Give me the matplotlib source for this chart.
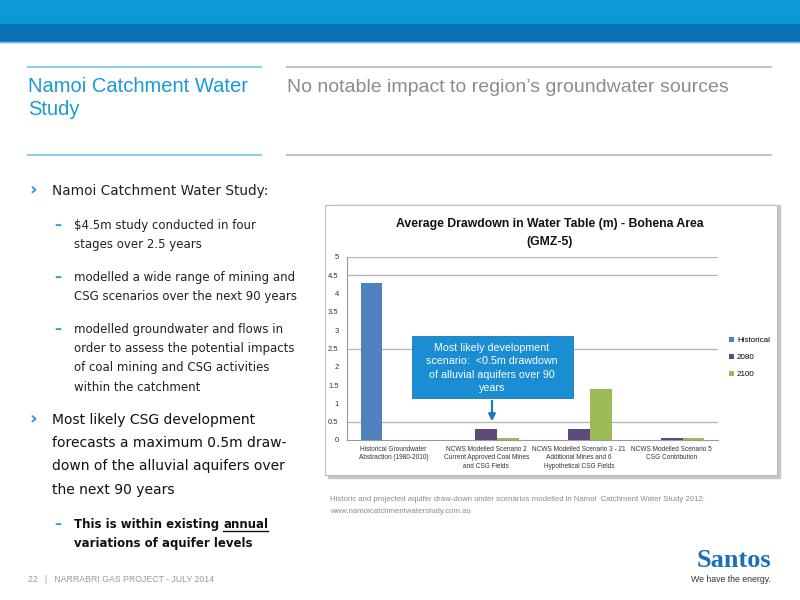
import numpy as np
import matplotlib
matplotlib.use("Agg")
import matplotlib.pyplot as plt
from matplotlib.patches import Rectangle, FancyArrowPatch

# chart data
categories = [
    "Historical Groundwater\nAbstraction (1980-2010)",
    "NCWS Modelled Scenario 2\nCurrent Approved Coal Mines\nand CSG Fields",
    "NCWS Modelled Scenario 3 - 21\nAdditional Mines and 6\nHypothetical CSG Fields",
    "NCWS Modelled Scenario 5\nCSG Contribution",
]
series_names = ["Historical", "2080", "2100"]
historical = [4.3, 0.0, 0.0, 0.0]
y2080 = [0.0, 0.29, 0.29, 0.05]
y2100 = [0.0, 0.05, 1.40, 0.05]
series_colors = ["#4f81bd", "#604a7b", "#9bbb59"]
yticks = [0, 0.5, 1, 1.5, 2, 2.5, 3, 3.5, 4, 4.5, 5]
ytick_labels = ["0", "0.5", "1", "1.5", "2", "2.5", "3", "3.5", "4", "4.5", "5"]

W, H = 800, 600
fig = plt.figure(figsize=(8, 6), dpi=100)
fig.patch.set_facecolor("white")


def fx(px):
    return px / W


def fy(py):
    return 1 - py / H


def ftext(px, py, s, **kw):
    kw.setdefault("va", "baseline")
    return fig.text(fx(px), fy(py), s, **kw)


def hline(x0, x1, y, color, lw=1.5):
    fig.add_artist(plt.Line2D([fx(x0), fx(x1)], [fy(y), fy(y)], color=color, lw=lw,
                              transform=fig.transFigure))


# header bands
fig.add_artist(Rectangle((0, fy(24)), 1, fy(0) - fy(24), color="#0a9bd6", transform=fig.transFigure, zorder=0))
fig.add_artist(Rectangle((0, fy(42)), 1, fy(24) - fy(42), color="#0a70b4", transform=fig.transFigure, zorder=0))
hline(0, 800, 42, "#7fc3e8", lw=1.0)

# title area
lib = ["Liberation Sans", "DejaVu Sans"]
hline(28, 261, 67, "#8fcdeb")
hline(28, 261, 155, "#8fcdeb")
hline(287, 771, 67, "#c4c4c4")
hline(287, 771, 155, "#c4c4c4")
ftext(28, 92, "Namoi Catchment Water", color="#1a9ad6", fontsize=14.5, family=lib)
ftext(28, 115, "Study", color="#1a9ad6", fontsize=14.5, family=lib)
ftext(287, 92, "No notable impact to region\u2019s groundwater sources", color="#8c8c8c",
      fontsize=14, family=lib)

# left text block
body = ["DejaVu Sans"]
blue = "#1a9ad6"
ftext(29, 195, "\u203a", color=blue, fontsize=13, fontweight="bold")
ftext(52, 195, "Namoi Catchment Water Study:", fontsize=9.8, family=body, color="#222222")
sub = [
    (229, ["$4.5m study conducted in four", "stages over 2.5 years"]),
    (281, ["modelled a wide range of mining and", "CSG scenarios over the next 90 years"]),
    (333, ["modelled groundwater and flows in", "order to assess the potential impacts",
           "of coal mining and CSG activities", "within the catchment"]),
]
for y0, lines in sub:
    ftext(54, y0, "\u2013", color=blue, fontsize=10, fontweight="bold")
    for i, ln in enumerate(lines):
        ftext(74, y0 + i * 19.2, ln.replace("$", r"\$"), fontsize=8.5, family=body, color="#222222")

ftext(29, 424, "\u203a", color=blue, fontsize=13, fontweight="bold")
main2 = ["Most likely CSG development", "forecasts a maximum 0.5m draw-",
         "down of the alluvial aquifers over", "the next 90 years"]
for i, ln in enumerate(main2):
    ftext(52, 424 + i * 23.2, ln, fontsize=10, family=body, color="#111111")

ftext(54, 528, "\u2013", color=blue, fontsize=10, fontweight="bold")
t1 = ftext(74, 528, "This is within existing ", fontsize=8.5, family=body, fontweight="bold", color="#111111")
ftext(74, 547, "variations of aquifer levels", fontsize=8.5, family=body, fontweight="bold", color="#111111")
fig.canvas.draw()
r = fig.canvas.get_renderer()
bb = t1.get_window_extent(r)
t2 = fig.text(bb.x1 / W, fy(528), "annual", fontsize=8.5, family=body, fontweight="bold",
              color="#111111", va="baseline")
bb2 = t2.get_window_extent(r)
fig.add_artist(plt.Line2D([bb2.x0 / W, bb2.x1 / W], [fy(531), fy(531)], color="#111111", lw=1.0,
                          transform=fig.transFigure))

# footer
ftext(28, 582, "22   |   NARRABRI GAS PROJECT - JULY 2014", fontsize=6.3, color="#9a9a9a", family=lib)
ftext(771, 567, "Santos", fontsize=19, color="#1a6fb8", family="Liberation Serif", fontweight="bold", ha="right")
ftext(771, 582, "We have the energy.", fontsize=6.3, color="#333333", family=lib, ha="right")

# caption
ftext(330, 501, "Historic and projected aquifer draw-down under scenarios modelled in Namoi  Catchment Water Study 2012:",
      fontsize=5.6, color="#8a8a8a", family=lib)
ftext(330, 513, "www.namoicatchmentwaterstudy.com.au", fontsize=5.6, color="#8a8a8a", family=lib)

# chart frame with shadow
fig.add_artist(Rectangle((fx(328), fy(478)), fx(777 - 325), (478 - 205) / H, color="#c8c8c8",
                         transform=fig.transFigure, zorder=1))
fig.add_artist(Rectangle((fx(325), fy(475)), fx(777 - 325), (475 - 205) / H, facecolor="white",
                         edgecolor="#bdbdbd", lw=0.8, transform=fig.transFigure, zorder=1))
ftext(550, 227, "Average Drawdown in Water Table (m) - Bohena Area", fontsize=8.8, fontweight="bold",
      ha="center", family=lib, color="#111111", zorder=3)
ftext(550, 245, "(GMZ-5)", fontsize=8.8, fontweight="bold", ha="center", family=lib, color="#111111", zorder=3)

ax = fig.add_axes([fx(347), fy(440), fx(718 - 347), (440 - 257) / H], zorder=2)
ax.set_facecolor("none")
x = np.arange(len(categories))
bw = 0.235
for i, (vals, name, col) in enumerate(zip([historical, y2080, y2100], series_names, series_colors)):
    ax.bar(x + (i - 1) * bw, vals, bw, color=col, label=name, zorder=3)

ax.set_ylim(0, 5)
ax.set_xlim(-0.5, 3.5)
ax.set_yticks(yticks)
ax.set_yticklabels(ytick_labels)
for g in [0.5, 2.5, 4.5, 5]:
    ax.axhline(g, color="#b4b4b4", lw=0.9, zorder=1)
ax.set_xticks(x)
ax.set_xticklabels(categories, fontsize=4.7, color="#333333", linespacing=1.3, family=lib)
ax.tick_params(axis="y", labelsize=5.5, colors="#333333", length=0, pad=6)
ax.tick_params(axis="x", length=0, pad=4)
for lab in ax.get_yticklabels():
    lab.set_family(lib)
for s in ["top", "right"]:
    ax.spines[s].set_visible(False)
ax.spines["left"].set_color("#999999")
ax.spines["bottom"].set_color("#999999")
ax.spines["left"].set_linewidth(0.8)
ax.spines["bottom"].set_linewidth(0.8)

leg = ax.legend(loc="center left", bbox_to_anchor=(1.01, 0.45), frameon=False,
                prop={"family": lib, "size": 5.8},
                handlelength=0.6, handleheight=0.6, handletextpad=0.4, labelspacing=1.2)

# callout
fig.add_artist(Rectangle((fx(412), fy(398)), fx(573 - 412), (398 - 336) / H, facecolor="#1b8dd3",
                         edgecolor="#1679b8", lw=0.6, transform=fig.transFigure, zorder=4))
callout = ["Most likely development", "scenario:  <0.5m drawdown", "of alluvial aquifers over 90", "years"]
for i, ln in enumerate(callout):
    ftext(492, 351 + i * 13.3, ln, fontsize=7.7, color="white", ha="center", family=lib, zorder=5)
fig.add_artist(FancyArrowPatch((fx(492), fy(398)), (fx(492), fy(424)), transform=fig.transFigure,
                               arrowstyle="-|>", mutation_scale=10, color="#1679c2", lw=1.6, zorder=5))

fig.savefig("out.png", dpi=100)
